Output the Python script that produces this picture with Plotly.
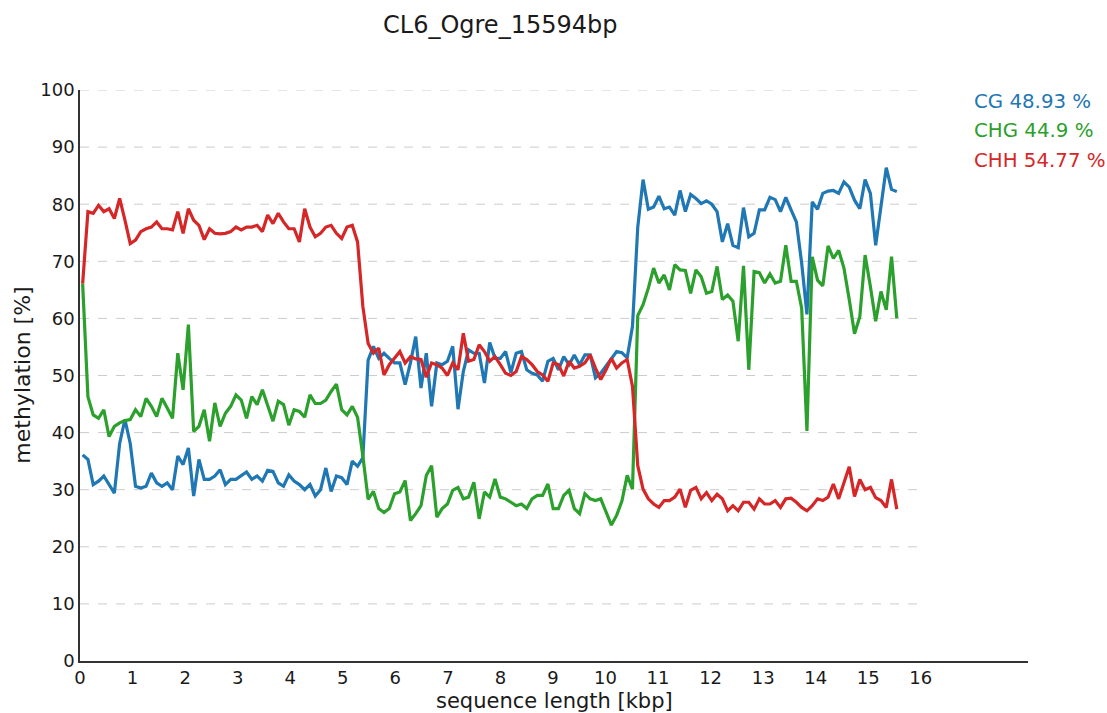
import plotly.graph_objects as go

# Methylation levels per ~100 bp window along the element
seq_len_bp = 15594
n_bins = 155

cg = [36.1, 35.3, 30.9, 31.5, 32.4, 30.9, 29.4, 38.1, 42.3, 38.1,
      30.6, 30.3, 30.6, 32.9, 31.2, 30.6, 31.2, 30.0, 35.9, 34.4,
      37.3, 28.9, 35.3, 31.8, 31.8, 32.4, 33.5,
      30.9, 31.8, 31.8, 32.4, 33.1, 31.8, 32.4, 31.5, 33.4, 33.2,
      31.2, 30.6, 32.6, 31.5, 30.9, 30.0, 30.9, 28.9, 30.0, 33.8,
      29.7, 32.4, 32.1, 30.9, 35.0, 34.1, 35.6, 52.7,
      55.1, 53.0, 53.9, 53.0, 52.2, 52.2, 48.4, 52.2, 56.8, 47.8,
      53.9, 44.6, 52.2, 51.9, 52.5, 55.1, 44.1, 50.7, 54.5, 53.9,
      53.9, 48.7, 55.8, 53.0, 53.0, 54.2, 50.5,
      53.9, 54.2, 51.0, 50.4, 50.1, 49.0, 52.5, 53.0, 51.0, 53.3,
      51.9, 53.6, 51.9, 53.6, 53.6, 49.6, 50.4, 51.6, 53.0, 54.2,
      54.0, 53.1, 58.6,
      76.0, 84.3, 79.1, 79.5, 81.4, 79.2, 79.5, 78.1, 82.4, 78.7,
      81.7, 81.0, 80.1, 80.6, 80.0, 78.7, 73.4, 76.6, 72.8, 72.4,
      79.4, 74.3, 74.9, 79.0, 79.0, 81.2,
      80.8, 78.7, 81.2, 79.0, 76.9, 69.7, 60.7, 80.4, 79.1, 81.9,
      82.3, 82.4, 81.9, 83.9, 83.0, 80.7, 79.2, 84.3, 81.9, 72.8,
      80.1, 86.4, 82.6, 82.2]

chg = [66.1, 46.3, 43.1, 42.5, 44.0, 39.3, 41.1, 41.7, 42.1, 42.3,
       44.0, 42.8, 46.0, 44.6, 42.8, 46.0, 44.3, 42.5, 53.9, 47.5,
       58.9, 40.2, 41.1, 44.0, 38.5, 45.2, 41.1,
       43.4, 44.6, 46.6, 45.7, 42.5, 46.3, 44.9, 47.5, 44.6, 42.0,
       45.5, 44.9, 41.3, 44.0, 43.7, 42.7, 46.6, 45.1, 45.1, 45.7,
       47.2, 48.5, 44.0, 43.1, 44.6, 42.7, 35.9, 28.3,
       29.7, 26.7, 26.0, 26.7, 29.3, 29.6, 31.6, 24.6, 25.8, 27.2,
       32.5, 34.2, 25.2, 26.7, 27.5, 29.9, 30.4, 28.4, 28.7, 31.3,
       24.9, 29.6, 28.7, 31.9, 28.7, 28.4, 27.8,
       27.2, 27.5, 26.7, 28.4, 29.0, 29.0, 31.0, 26.7, 26.7, 29.0,
       29.9, 26.7, 25.8, 29.3, 28.4, 28.1, 28.4, 26.1, 23.8, 25.5,
       28.0, 32.5, 30.1,
       60.5, 62.4, 65.3, 68.8, 66.2, 67.6, 65.0, 69.4, 68.5, 68.4,
       64.4, 68.5, 67.3, 64.4, 64.7, 69.1, 63.3, 64.1, 63.0, 56.0,
       69.2, 51.0, 68.2, 68.0, 66.2, 67.8,
       66.2, 66.5, 72.8, 66.5, 66.5, 61.8, 40.3, 70.8, 66.7, 65.7,
       72.7, 70.5, 71.9, 68.8, 63.3, 57.3, 60.3, 71.1, 65.6, 59.5,
       64.7, 61.5, 70.8, 60.0]

chh = [66.1, 78.7, 78.4, 79.8, 78.7, 79.2, 77.5, 81.0, 77.2, 73.1,
       73.7, 75.2, 75.7, 76.0, 76.9, 75.7, 75.7, 75.5, 78.7, 74.9,
       79.2, 77.2, 76.3, 73.8, 75.7, 74.9, 74.8,
       74.9, 75.2, 76.0, 75.5, 76.0, 76.0, 76.3, 75.2, 78.1, 76.6,
       78.4, 76.9, 75.7, 75.7, 73.4, 79.2, 76.0, 74.3, 74.9, 76.0,
       76.3, 74.9, 74.0, 76.0, 76.3, 73.4, 62.1, 55.6,
       53.9, 54.8, 50.1, 51.9, 53.0, 54.2, 52.2, 53.3, 52.9, 52.8,
       49.7, 52.2, 51.9, 51.3, 50.0, 52.2, 51.0, 57.4, 52.5, 52.8,
       55.4, 54.2, 52.5, 53.3, 51.9, 50.4, 50.0,
       50.7, 53.3, 52.8, 51.9, 50.7, 50.1, 49.0, 52.2, 51.9, 49.9,
       52.5, 51.3, 51.6, 52.2, 53.6, 51.3, 49.3, 51.0, 53.0, 51.3,
       52.2, 52.8, 48.1,
       34.2, 30.1, 28.4, 27.5, 26.9, 28.1, 28.1, 28.7, 30.1, 26.9,
       29.9, 30.4, 28.4, 29.5, 28.1, 29.2, 28.4, 26.3, 27.2, 26.3,
       27.8, 27.8, 26.6, 28.4, 27.5, 27.5,
       28.1, 26.9, 28.4, 28.5, 27.8, 26.9, 26.3, 27.2, 28.4, 28.1,
       28.7, 31.0, 28.4, 31.0, 34.0, 28.8, 31.8, 30.0, 30.4, 28.6,
       28.1, 26.9, 31.8, 26.6]

contexts = ["CG", "CHG", "CHH"]
totals = [48.93, 44.9, 54.77]
colors = ["#1f77b4", "#2ca02c", "#d62728"]
series = [cg, chg, chh]

x_ticks = list(range(0, 17))
y_ticks = list(range(0, 101, 10))

# window centres in kbp
bin_kbp = seq_len_bp / n_bins / 1000.0
x_kbp = [(i + 0.5) * bin_kbp for i in range(n_bins)]

FONT = "DejaVu Sans"
TXT = "#1a1a1a"

fig = go.Figure()
for name, vals, col in zip(contexts, series, colors):
    fig.add_trace(go.Scatter(x=x_kbp, y=vals, mode="lines", name=name,
                             line=dict(color=col, width=3.2), showlegend=False))

# dashed horizontal grid, only across the tick span
for yv in y_ticks[1:]:
    fig.add_shape(type="line", xref="x", yref="y", x0=x_ticks[0], x1=x_ticks[-1],
                  y0=yv, y1=yv, layer="below",
                  line=dict(color="#cccccc", width=1, dash="dash"))

annotations = []
# per-context totals at top right
for k, (name, tot, col) in enumerate(zip(contexts, totals, colors)):
    annotations.append(dict(text=f"{name} {tot} %", xref="paper", yref="paper",
                            x=0.9405, y=0.979 - 0.0508 * k, xanchor="left",
                            yanchor="middle", showarrow=False,
                            font=dict(family=FONT, size=19.8, color=col)))
annotations.append(dict(text="CL6_Ogre_15594bp", xref="paper", yref="paper",
                        x=0.443, y=1.114, xanchor="center", yanchor="middle",
                        showarrow=False, font=dict(family=FONT, size=24, color=TXT)))
annotations.append(dict(text="sequence length [kbp]", xref="paper", yref="paper",
                        x=0.5, y=-0.0695, xanchor="center", yanchor="middle",
                        showarrow=False, borderpad=0,
                        font=dict(family=FONT, size=21, color=TXT)))
annotations.append(dict(text="methylation [%]", xref="paper", yref="paper",
                        x=-0.061, y=0.5, xanchor="center", yanchor="middle",
                        textangle=-90, showarrow=False,
                        font=dict(family=FONT, size=22, color=TXT)))

fig.update_layout(
    width=1107, height=713,
    margin=dict(l=80, r=79, t=90, b=52, pad=0),
    paper_bgcolor="white", plot_bgcolor="white",
    font=dict(family=FONT, size=18, color=TXT),
    annotations=annotations,
    xaxis=dict(range=[0, 18.04], tickmode="array", tickvals=x_ticks,
               ticktext=[str(v) for v in x_ticks], showgrid=False, zeroline=False,
               showline=True, linecolor="#333333", linewidth=1.5, ticks="",
               tickfont=dict(family=FONT, size=18, color=TXT)),
    yaxis=dict(range=[0, 100], tickmode="array", tickvals=y_ticks,
               ticktext=[str(v) for v in y_ticks], showgrid=False, zeroline=False,
               showline=True, linecolor="#333333", linewidth=1.5, ticks="",
               tickfont=dict(family=FONT, size=18, color=TXT)),
)

fig.write_html("out.html")
